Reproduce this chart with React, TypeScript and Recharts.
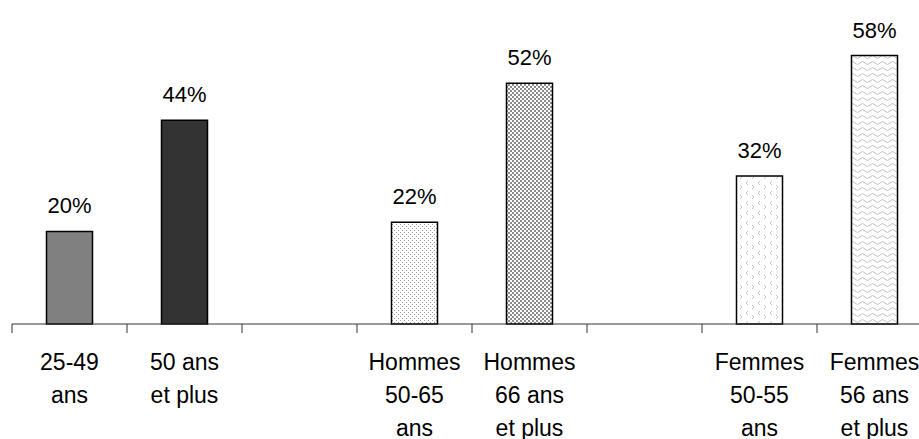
import { Bar, BarChart, Cell, LabelList, XAxis, YAxis } from "recharts";

const categories = [
	"25-49\nans",
	"50 ans\net plus",
	"",
	"Hommes\n50-65\nans",
	"Hommes\n66 ans\net plus",
	"",
	"Femmes\n50-55\nans",
	"Femmes\n56 ans\net plus",
];
const values = [20, 44, null, 22, 52, null, 32, 58];

const data = categories.map((cat, i) => ({ cat, key: `c${i}`, value: values[i] }));

const fills = [
	"#808080",
	"#333333",
	"none",
	"url(#dots)",
	"url(#checker)",
	"none",
	"url(#chevron)",
	"url(#wave)",
];

const W = 940;
const H = 439;
const M = { top: 0, right: 8, bottom: 0, left: 12 };
const band = (W - M.left - M.right) / categories.length;
const font = "'Liberation Sans', Arial, sans-serif";

function Tick(props: any) {
	const { x, y, payload, index } = props;
	const lines = String(categories[index] ?? "").split("\n");
	return (
		<g>
			<line x1={x - band / 2} x2={x - band / 2} y1={y} y2={y + 9} stroke="#333" />
			<text x={x} y={y + 46} textAnchor="middle" fontSize={23} fontFamily={font} fill="#000">
				{lines.map((l, i) => (
					<tspan key={i} x={x} dy={i === 0 ? 0 : 33}>
						{l}
					</tspan>
				))}
			</text>
		</g>
	);
}

export default function App() {
	return (
		<div style={{ position: "absolute", left: 0, top: 0, width: 919, height: 439, overflow: "hidden", background: "#fff" }}>
			<BarChart width={W} height={H} data={data} margin={M} barCategoryGap="30%">
				<defs>
					<pattern id="dots" width="4" height="4" patternUnits="userSpaceOnUse">
						<rect width="4" height="4" fill="#fff" />
						<rect x="0" y="0" width="1" height="1" fill="#999" />
						<rect x="2" y="2" width="1" height="1" fill="#999" />
					</pattern>
					<pattern id="checker" width="4" height="4" patternUnits="userSpaceOnUse">
						<rect width="4" height="4" fill="#fff" />
						<rect x="0" y="0" width="2" height="2" fill="#8a8a8a" />
						<rect x="2" y="2" width="2" height="2" fill="#8a8a8a" />
					</pattern>
					<pattern id="chevron" width="12" height="10" patternUnits="userSpaceOnUse">
						<rect width="12" height="10" fill="#fff" />
						<path d="M4 1 L2 3 L4 5" stroke="#c8c8c8" fill="none" />
						<path d="M8 5 L10 7 L8 9" stroke="#c8c8c8" fill="none" />
					</pattern>
					<pattern id="wave" width="10" height="6" patternUnits="userSpaceOnUse">
						<rect width="10" height="6" fill="#fff" />
						<path d="M0 3 Q2.5 0 5 3 T10 3" stroke="#c0c0c0" fill="none" />
					</pattern>
				</defs>
				<XAxis
					dataKey="key"
					height={115}
					tickLine={false}
					tickSize={0}
					tickMargin={0}
					interval={0}
					axisLine={{ stroke: "#333" }}
					tick={<Tick />}
				/>
				<YAxis hide domain={[0, 70]} />
				<Bar dataKey="value" isAnimationActive={false} stroke="#000" strokeWidth={1.5}>
					{data.map((d, i) => (
						<Cell key={d.key} fill={fills[i]} />
					))}
					<LabelList
						dataKey="value"
						position="top"
						offset={18}
						fontSize={22}
						fontFamily={font}
						fill="#000"
						formatter={(v: any) => (v == null ? "" : `${v}%`)}
					/>
				</Bar>
			</BarChart>
		</div>
	);
}
